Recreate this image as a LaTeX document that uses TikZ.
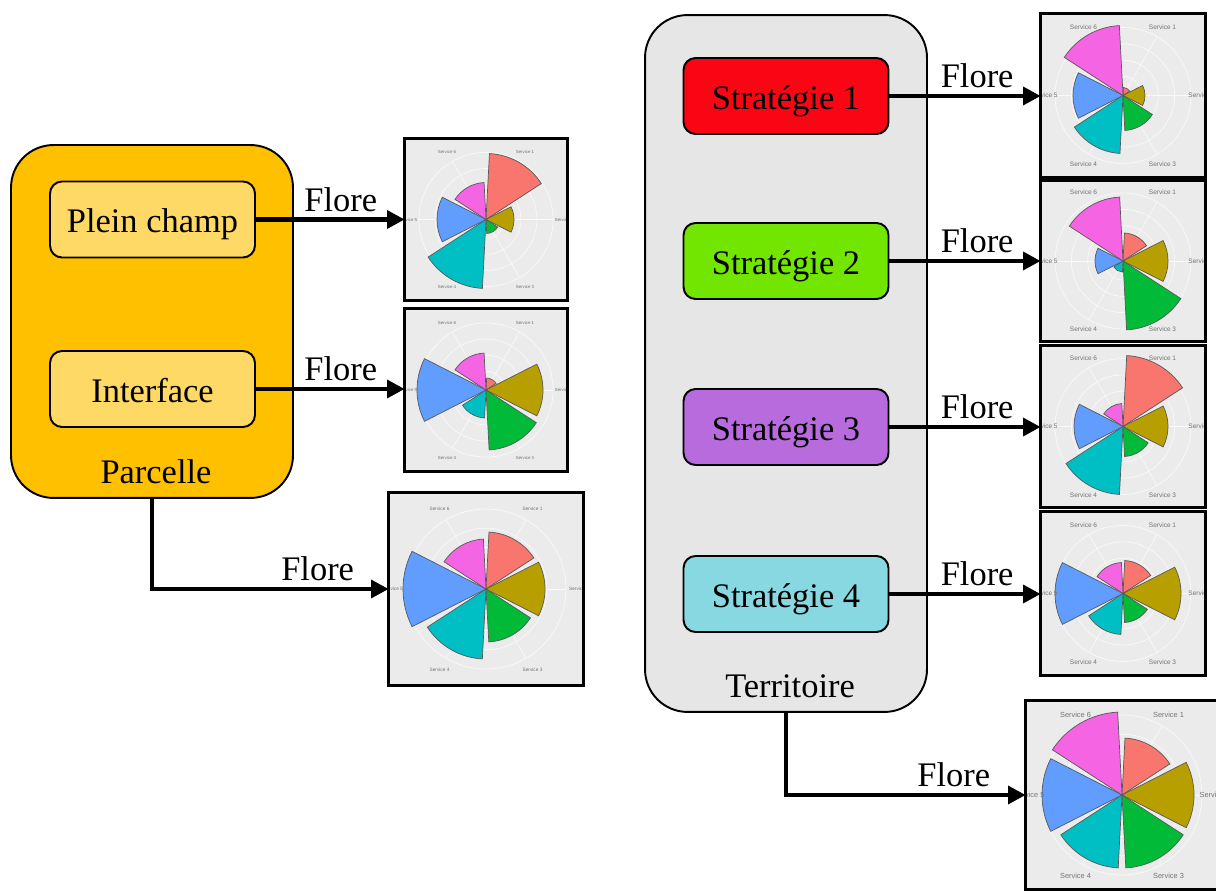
\documentclass[tikz,border=0pt]{standalone}
\usepackage{fontspec}
\setmainfont{Liberation Serif}
\setsansfont{Liberation Sans}
\usepackage{xcolor}
\usetikzlibrary{arrows.meta}

\definecolor{parcel}{HTML}{FFC000}
\definecolor{parcelitem}{HTML}{FFD966}
\definecolor{territ}{HTML}{E6E6E6}
\definecolor{stratA}{RGB}{250,5,20}
\definecolor{stratB}{RGB}{114,230,0}
\definecolor{stratC}{RGB}{184,107,220}
\definecolor{stratD}{RGB}{136,216,226}
\definecolor{chartbg}{HTML}{EBEBEB}
\definecolor{svc1}{HTML}{F8766D}
\definecolor{svc2}{HTML}{B79F00}
\definecolor{svc3}{HTML}{00BA38}
\definecolor{svc4}{HTML}{00BFC4}
\definecolor{svc5}{HTML}{619CFF}
\definecolor{svc6}{HTML}{F564E3}

% polar bar chart inside a frame node: #1 frame, #2 label radius, #3 radii of services 1..6, #4 label size
\newcommand{\rosechart}[4]{%
  \begin{scope}
    \clip (#1.south west) rectangle (#1.north east);
    \begin{scope}[shift={(#1.center)}, yscale=-1]
      \foreach \g in {0.28,0.52,0.76,1.0}
        \draw[white!70!chartbg, line width=0.4pt] (0,0) circle[radius=\g*#2*0.86];
      \foreach \a in {60,0,-60,-120,-180,-240}
        \draw[white!70!chartbg, line width=0.4pt] (0,0) -- (\a:#2*0.86);
      \foreach \rad [count=\i] in {#3}{
        \pgfmathsetmacro{\ang}{120-60*\i}
        \filldraw[fill=svc\i, draw=black!65, line width=0.4pt] (0,0) -- ({\ang+27}:\rad)
          arc[start angle={\ang+27}, end angle={\ang-27}, radius=\rad] -- cycle;
        \node[text=black!55, font=\sffamily\fontsize{#4}{#4}\selectfont, inner sep=0pt] (svclbl) at (\ang:#2) {Service \i};
      }
    \end{scope}
  \end{scope}
  \draw[line width=1.5pt] (#1.south west) rectangle (#1.north east);}

\begin{document}
\begin{tikzpicture}[x=0.02cm, y=-0.02cm,
  every node/.style={font=\fontsize{19.6}{22}\selectfont},
  group/.style={draw, line width=1.1pt, rounded corners=0.85cm, inner sep=0pt},
  item/.style={draw, line width=1.1pt, rounded corners=0.24cm, minimum width=4.1cm, minimum height=1.52cm, inner sep=0pt, text height=15pt, text depth=0pt},
  chart/.style={fill=chartbg, inner sep=0pt},
  flow/.style={line width=2.6pt, -{Triangle[length=10pt, width=10pt]}}]
  \useasboundingbox (0,0) rectangle (1216,891);

  % parcelle
  \node[group, fill=parcel, minimum width=5.64cm, minimum height=7.06cm] (parcelle) at (152,321.5) {};
  \node[item, fill=parcelitem] (plein) at (152.5,219.5) {Plein champ};
  \node[item, fill=parcelitem] (interface) at (152.5,389) {Interface};
  \node (parcellelbl) at (156,472) {Parcelle};

  % territoire
  \node[group, fill=territ, minimum width=5.64cm, minimum height=13.94cm] (territoire) at (786,363.5) {};
  \node[item, fill=stratA] (strat1) at (786,96) {Stratégie 1};
  \node[item, fill=stratB] (strat2) at (786,261) {Stratégie 2};
  \node[item, fill=stratC] (strat3) at (786,427) {Stratégie 3};
  \node[item, fill=stratD] (strat4) at (786,594) {Stratégie 4};
  \node (territoirelbl) at (790,686) {Territoire};

  % charts
  \node[chart, minimum width=3.24cm, minimum height=3.22cm] (roseA) at (486,219.5) {};
  \node[chart, minimum width=3.24cm, minimum height=3.24cm] (roseB) at (486,390) {};
  \node[chart, minimum width=3.88cm, minimum height=3.84cm] (roseC) at (486,589) {};
  \node[chart, minimum width=3.28cm, minimum height=3.26cm] (roseD) at (1123,95.5) {};
  \node[chart, minimum width=3.28cm, minimum height=3.20cm] (roseE) at (1123,261) {};
  \node[chart, minimum width=3.28cm, minimum height=3.22cm] (roseF) at (1123,426.5) {};
  \node[chart, minimum width=3.28cm, minimum height=3.26cm] (roseG) at (1123,593.5) {};
  \node[chart, minimum width=3.84cm, minimum height=3.76cm] (roseH) at (1122,795) {};
  \rosechart{roseA}{78}{66,28,14,69,49,37}{2.5}
  \rosechart{roseB}{78}{12,57,60,28,69,37}{2.5}
  \rosechart{roseC}{93}{57,59,53,70,83,50}{2.7}
  \rosechart{roseD}{79}{8,22,35,58,50,70}{3.7}
  \rosechart{roseE}{79}{28,45,69,11,28,64}{3.7}
  \rosechart{roseF}{79}{71,45,30,68,49,23}{3.7}
  \rosechart{roseG}{79}{33,58,29,41,68,31}{3.7}
  \rosechart{roseH}{93}{57,72,73,73,80,83}{4.2}

  % arrows
  \draw[flow] (plein.east) -- node[above, pos=0.57] (floreA) {Flore} (plein.east -| roseA.west);
  \draw[flow] (interface.east) -- node[above, pos=0.57] (floreB) {Flore} (interface.east -| roseB.west);
  \draw[flow] (parcelle.south) |- node[above, pos=0.85] (floreC) {Flore} (roseC.west);
  \draw[flow] (strat1.east) -- node[above, pos=0.58] (floreD) {Flore} (strat1.east -| roseD.west);
  \draw[flow] (strat2.east) -- node[above, pos=0.58] (floreE) {Flore} (strat2.east -| roseE.west);
  \draw[flow] (strat3.east) -- node[above, pos=0.58] (floreF) {Flore} (strat3.east -| roseF.west);
  \draw[flow] (strat4.east) -- node[above, pos=0.58] (floreG) {Flore} (strat4.east -| roseG.west);
  \draw[flow] (territoire.south) |- node[above, pos=0.85] (floreH) {Flore} (roseH.west);
\end{tikzpicture}
\end{document}
